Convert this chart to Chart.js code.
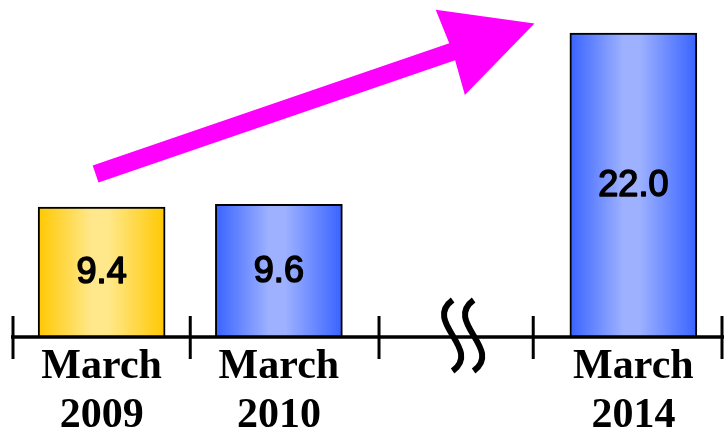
<!DOCTYPE html>
<html lang="en">
<head>
<meta charset="UTF-8">
<title>March 2009 - March 2014</title>
<script src="https://cdn.jsdelivr.net/npm/chart.js@4.4.1/dist/chart.umd.min.js"></script>
<style>
  body { margin: 0; background: #fff; }
</style>
</head>
<body>
<canvas id="chart" width="724" height="434"></canvas>
<script>
// data
const categories = [['March', '2009'], ['March', '2010'], '', ['March', '2014']];
const values = [9.4, 9.6, null, 22.0];
const valueLabels = ['9.4', '9.6', '', '22.0'];
const barShade = ['yellow', 'blue', 'blue', 'blue'];

// arrow anchors in data units (x = category index, y = value)
const arrowFrom = { x: -0.034, y: 11.8 };
const arrowTo = { x: 2.442, y: 22.7 };

const shades = {
    yellow: ['#ffc800', '#ffe88c'],
    blue: ['#3862ff', '#9db1ff']
};

function barGradient(c) {
    const chart = c.chart;
    const xs = chart.scales.x;
    if (!chart.chartArea || !xs || c.dataIndex === undefined) return '#888';
    const mid = xs.getPixelForValue(c.dataIndex);
    const half = 64;
    const s = shades[barShade[c.dataIndex]];
    const g = chart.ctx.createLinearGradient(mid - half, 0, mid + half, 0);
    g.addColorStop(0, s[0]);
    g.addColorStop(0.42, s[1]);
    g.addColorStop(0.55, s[1]);
    g.addColorStop(1, s[0]);
    return g;
}

const decor = {
    id: 'decor',
    afterDatasetsDraw(chart) {
        const ctx = chart.ctx;
        const xs = chart.scales.x;
        const ys = chart.scales.y;
        const axisY = ys.getPixelForValue(0);

        // value labels in the middle of each bar
        const meta = chart.getDatasetMeta(0);
        ctx.save();
        ctx.fillStyle = '#000';
        ctx.strokeStyle = '#000';
        ctx.lineWidth = 1.6;
        ctx.lineJoin = 'round';
        ctx.font = '36px "Liberation Sans", Arial, sans-serif';
        ctx.textAlign = 'center';
        ctx.textBaseline = 'middle';
        meta.data.forEach((bar, i) => {
            if (values[i] == null) return;
            const p = bar.getProps(['x', 'y', 'base'], true);
            const ly = (p.y + p.base) / 2 + 1;
            ctx.fillText(valueLabels[i], p.x, ly);
            ctx.strokeText(valueLabels[i], p.x, ly);
        });
        ctx.restore();

        // axis line
        ctx.save();
        ctx.strokeStyle = '#000';
        ctx.lineWidth = 3.5;
        ctx.beginPath();
        ctx.moveTo(xs.left - 2, axisY);
        ctx.lineTo(chart.width, axisY);
        ctx.stroke();

        // tick marks: category edges, the gap gets its own pair
        const tickVals = [-0.5, 0.5, 2 - 0.435, 2 + 0.435, 3.5];
        ctx.lineWidth = 3;
        tickVals.forEach(v => {
            const px = xs.getPixelForValue(v);
            ctx.beginPath();
            ctx.moveTo(px, axisY - 21);
            ctx.lineTo(px, axisY + 22);
            ctx.stroke();
        });

        // break mark
        const gap = xs.getPixelForValue(2);
        ctx.lineWidth = 6;
        ctx.lineCap = 'butt';
        [-3.5, 17.5].forEach(dx => {
            const x0 = gap + dx;
            const top = axisY - 37, bot = axisY + 34;
            ctx.beginPath();
            ctx.moveTo(x0, top);
            ctx.bezierCurveTo(x0 - 30, top + 22, x0 + 30, bot - 22, x0, bot);
            ctx.stroke();
        });
        ctx.restore();

        // arrow
        const sx = xs.getPixelForValue(arrowFrom.x), sy = ys.getPixelForValue(arrowFrom.y);
        const tx = xs.getPixelForValue(arrowTo.x), ty = ys.getPixelForValue(arrowTo.y);
        const len = Math.hypot(tx - sx, ty - sy);
        const ux = (tx - sx) / len, uy = (ty - sy) / len;
        const nx = -uy, ny = ux;
        const headLen = 89, headHalf = 45, shaftHalf = 9;
        const bx = tx - ux * headLen, by = ty - uy * headLen;
        ctx.save();
        ctx.fillStyle = '#ff00ff';
        ctx.beginPath();
        ctx.moveTo(sx + nx * shaftHalf, sy + ny * shaftHalf);
        ctx.lineTo(bx + nx * shaftHalf + ux * 2, by + ny * shaftHalf + uy * 2);
        ctx.lineTo(bx + nx * headHalf, by + ny * headHalf);
        ctx.lineTo(tx, ty);
        ctx.lineTo(bx - nx * headHalf, by - ny * headHalf);
        ctx.lineTo(bx - nx * shaftHalf + ux * 2, by - ny * shaftHalf + uy * 2);
        ctx.lineTo(sx - nx * shaftHalf, sy - ny * shaftHalf);
        ctx.closePath();
        ctx.fill();
        ctx.restore();
    }
};

new Chart(document.getElementById('chart'), {
    type: 'bar',
    data: {
        labels: categories,
        datasets: [{
            data: values,
            backgroundColor: barGradient,
            borderColor: '#000',
            borderWidth: 2,
            borderSkipped: 'bottom',
            barThickness: 127
        }]
    },
    options: {
        responsive: false,
        animation: false,
        layout: { padding: { left: 13, right: 2, top: 0, bottom: 0 } },
        plugins: {
            legend: { display: false },
            tooltip: { enabled: false }
        },
        scales: {
            x: {
                grid: { display: false, drawTicks: false },
                border: { display: false },
                ticks: {
                    color: '#000',
                    padding: 6,
                    maxRotation: 0,
                    autoSkip: false,
                    font: { family: '"Liberation Serif", "Times New Roman", serif', size: 42, weight: 'bold', lineHeight: 1.167 }
                },
                afterFit(scale) { scale.height = 97; }
            },
            y: {
                display: false,
                min: 0,
                max: 24.4
            }
        }
    },
    plugins: [decor]
});
</script>
</body>
</html>
